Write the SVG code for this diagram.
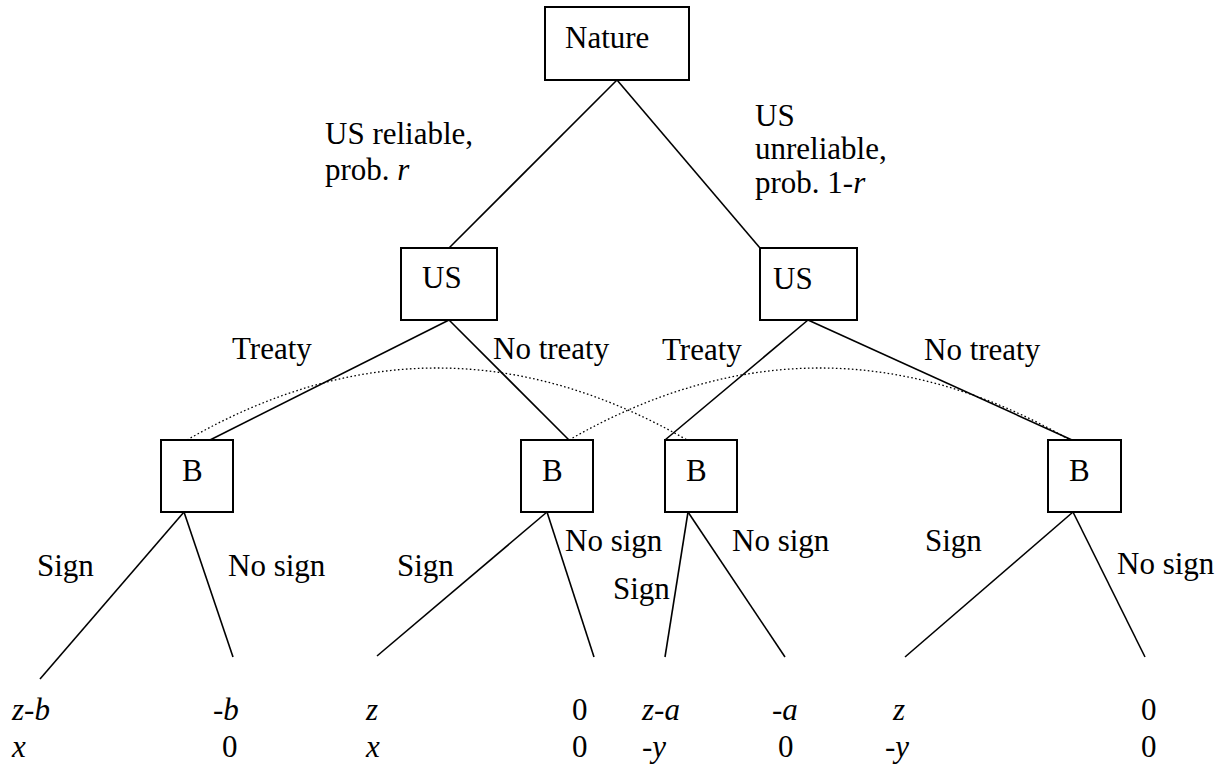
<svg xmlns="http://www.w3.org/2000/svg" width="1230" height="767" viewBox="0 0 1230 767">
<style>
text{font-family:"Liberation Serif","Times New Roman",serif;font-size:31px;fill:#000}
.i{font-style:italic}
.box{fill:#fff;stroke:#000;stroke-width:2}
.e{stroke:#000;stroke-width:1.6;fill:none}
.d{stroke:#000;stroke-width:1.3;fill:none;stroke-dasharray:1.6 2.4}
</style>
<rect width="1230" height="767" fill="#fff"/>
<g id="connectors">
<line class="e" x1="617" y1="80" x2="449" y2="248"/>
<line class="e" x1="617" y1="80" x2="760" y2="248"/>
<line class="e" x1="449" y1="320" x2="210" y2="440"/>
<line class="e" x1="449" y1="320" x2="569" y2="440"/>
<line class="e" x1="808" y1="320" x2="665" y2="440"/>
<line class="e" x1="808" y1="320" x2="1072" y2="440"/>
<line class="e" x1="184" y1="512" x2="40" y2="679"/>
<line class="e" x1="184" y1="512" x2="233" y2="657"/>
<line class="e" x1="547" y1="512" x2="377" y2="656"/>
<line class="e" x1="547" y1="512" x2="594" y2="657"/>
<line class="e" x1="688" y1="512" x2="665" y2="657"/>
<line class="e" x1="688" y1="512" x2="785" y2="657"/>
<line class="e" x1="1073" y1="512" x2="905" y2="657"/>
<line class="e" x1="1073" y1="512" x2="1145" y2="657"/>
<path class="d" d="M187,440 Q437,296 687,440"/>
<path class="d" d="M569,440 Q820,296 1070,440"/>
</g>
<g id="nature"><rect class="box" x="545" y="7" width="144" height="73"/><text x="565" y="48">Nature</text></g>
<g id="us1"><rect class="box" x="401" y="248" width="96" height="72"/><text x="422" y="288">US</text></g>
<g id="us2"><rect class="box" x="760" y="248" width="97" height="72"/><text x="773" y="289">US</text></g>
<g id="b1"><rect class="box" x="161" y="440" width="72" height="72"/><text x="182" y="481">B</text></g>
<g id="b2"><rect class="box" x="521" y="440" width="72" height="72"/><text x="542" y="481">B</text></g>
<g id="b3"><rect class="box" x="665" y="440" width="72" height="72"/><text x="686" y="481">B</text></g>
<g id="b4"><rect class="box" x="1048" y="440" width="73" height="72"/><text x="1069" y="481">B</text></g>
<g id="labels">
<text x="325" y="144">US reliable,</text>
<text x="325" y="180">prob. <tspan class="i">r</tspan></text>
<text x="755" y="126">US</text>
<text x="755" y="159">unreliable,</text>
<text x="755" y="193">prob. 1-<tspan class="i">r</tspan></text>
<text x="232" y="359">Treaty</text>
<text x="493" y="359">No treaty</text>
<text x="662" y="360">Treaty</text>
<text x="924" y="360">No treaty</text>
<text x="37" y="576">Sign</text>
<text x="228" y="576">No sign</text>
<text x="397" y="576">Sign</text>
<text x="565" y="551">No sign</text>
<text x="613" y="599">Sign</text>
<text x="732" y="551">No sign</text>
<text x="925" y="551">Sign</text>
<text x="1117" y="574">No sign</text>
</g>
<g id="payoffs">
<text class="i" x="12" y="720">z-b</text>
<text class="i" x="12" y="757">x</text>
<text class="i" x="213" y="720">-b</text>
<text x="222" y="757">0</text>
<text class="i" x="366" y="720">z</text>
<text class="i" x="366" y="757">x</text>
<text x="572" y="720">0</text>
<text x="572" y="757">0</text>
<text class="i" x="642" y="720">z-a</text>
<text class="i" x="642" y="757">-y</text>
<text class="i" x="772" y="720">-a</text>
<text x="778" y="757">0</text>
<text class="i" x="893" y="720">z</text>
<text class="i" x="885" y="757">-y</text>
<text x="1141" y="720">0</text>
<text x="1141" y="757">0</text>
</g>
</svg>
